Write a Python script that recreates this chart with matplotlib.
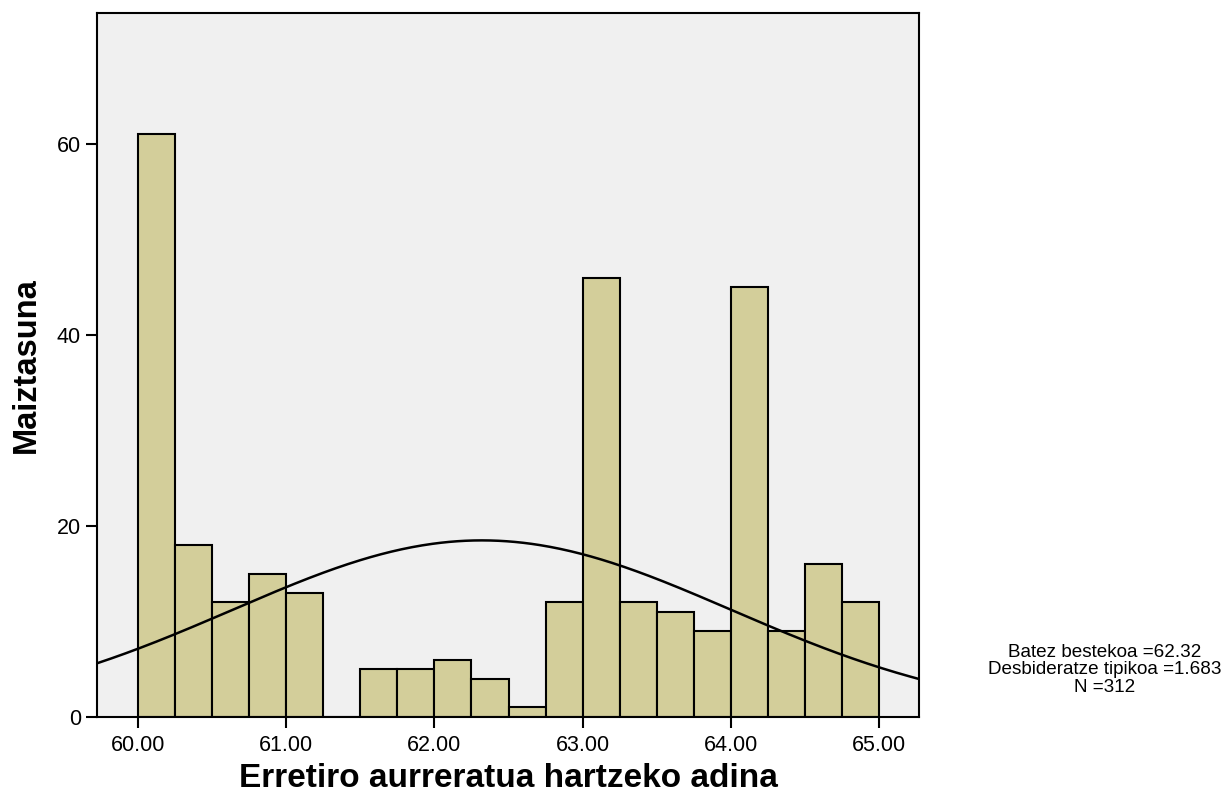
import numpy as np
import matplotlib.pyplot as plt

# histogram bins (width 0.25) and counts
bin_edges = [60.0 + 0.25 * i for i in range(21)]
counts = [61, 18, 12, 15, 13, 0, 5, 5, 6, 4, 1, 12, 46, 12, 11, 9, 45, 9, 16, 12]
mean_val = 62.32
std_val = 1.683
n_total = 312
x_ticks = [60, 61, 62, 63, 64, 65]
y_ticks = [0, 20, 40, 60]

plt.rcParams['font.family'] = ['Liberation Sans', 'DejaVu Sans']

fig = plt.figure(figsize=(12.27, 7.95), dpi=100)
ax = fig.add_axes([97 / 1227, 78 / 795, 822 / 1227, 704 / 795])
ax.set_facecolor('#f0f0f0')

widths = np.diff(bin_edges)
ax.bar(bin_edges[:-1], counts, width=widths, align='edge', color='#d3ce9a',
       edgecolor='black', linewidth=1.5, zorder=2)

# normal curve scaled to counts
xs = np.linspace(59.72, 65.27, 400)
bw = 0.25
ys = n_total * bw / (std_val * np.sqrt(2 * np.pi)) * np.exp(-0.5 * ((xs - mean_val) / std_val) ** 2)
ax.plot(xs, ys, color='black', linewidth=1.8, zorder=3)

ax.set_xlim(59.723, 65.27)
ax.set_ylim(0, 73.7)
ax.set_xticks(x_ticks)
ax.set_xticklabels(["{:.2f}".format(t) for t in x_ticks])
ax.set_yticks(y_ticks)
ax.tick_params(axis='both', direction='out', length=8, width=1.5, labelsize=15.5)
ax.tick_params(axis='x', pad=5)
for s in ax.spines.values():
    s.set_linewidth(1.5)

ax.set_xlabel("Erretiro aurreratua hartzeko adina", fontsize=24, fontweight='bold', labelpad=5)
ax.set_ylabel("Maiztasuna", fontsize=23.5, fontweight='bold', labelpad=11)

fig.text(1105 / 1227, 1 - 670 / 795,
         "Batez bestekoa =62.32\nDesbideratze tipikoa =1.683\nN =312",
         ha='center', va='center', fontsize=13.6, linespacing=1.06)

fig.savefig("out.png", dpi=100)
